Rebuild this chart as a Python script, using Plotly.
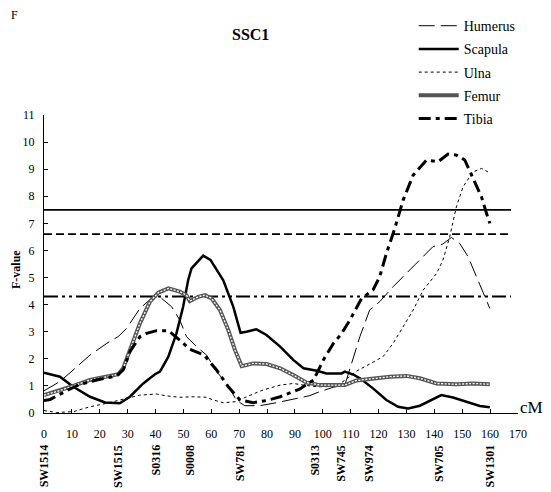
import plotly.graph_objects as go

# F-value profiles along SSC1 (cM, F)
humerus_x = [0, 5.7, 10.5, 16.5, 22.5, 26.6, 29.6, 34.4, 39.2, 42.2, 45.8, 48.7, 51.1, 54.7, 58.3,
             61.9, 65.5, 69.1, 72, 77.4, 83.4, 89.4, 95.3, 98.9, 103.7, 107.9, 110.3, 113.3, 116.8,
             120.4, 125.2, 130, 134.8, 139.5, 143.1, 146.1, 149.1, 152.1, 155.1, 158.1, 159.9]
humerus_y = [0.82, 1.16, 1.59, 2.14, 2.57, 2.82, 3.12, 3.86, 4.29, 4.23, 3.92, 3.43, 2.82, 2.45, 2.14,
             1.53, 1.09, 0.46, 0.27, 0.27, 0.38, 0.5, 0.64, 0.79, 0.95, 1.03, 1.83, 2.82, 3.8,
             4.11, 4.66, 5.15, 5.65, 6.14, 6.24, 6.48, 6.26, 5.77, 5.03, 4.29, 3.86]

scapula_x = [0, 5.7, 10.5, 16.5, 21.9, 27.2, 30.8, 35.6, 39.8, 41.6, 44.6, 47.5, 49.9, 51.7, 52.9,
             57.1, 59.7, 64.3, 67.9, 70.5, 72.6, 76.2, 79.8, 84.7, 89.4, 93.1, 97.9, 101.3, 106.7,
             107.9, 110.9, 113.3, 118, 122.8, 127, 130.6, 134.8, 139, 142.5, 146.7, 151.5, 156.3, 159.9]
scapula_y = [1.49, 1.34, 0.97, 0.6, 0.39, 0.36, 0.6, 1.09, 1.43, 1.53, 2.08, 2.94, 3.92, 4.9, 5.34,
             5.81, 5.65, 4.9, 3.92, 2.96, 3.0, 3.09, 2.88, 2.45, 1.96, 1.65, 1.56, 1.46, 1.46,
             1.53, 1.42, 1.28, 0.91, 0.48, 0.23, 0.17, 0.27, 0.48, 0.66, 0.57, 0.42, 0.26, 0.21]

ulna_x = [0, 4.5, 10.5, 16.5, 22.5, 28.4, 34.4, 40.4, 44, 48.7, 53.5, 58.3, 60.7, 64.3, 69.1, 72.6,
          78.6, 84.7, 89.4, 93.1, 97.9, 101.3, 106.1, 112.2, 116.9, 121.6, 125.2, 128.8, 132.4,
          136, 140.8, 143.1, 145.5, 147.9, 150.3, 153.9, 156.9, 159.2]
ulna_y = [0.09, 0.02, 0.05, 0.23, 0.36, 0.5, 0.66, 0.7, 0.63, 0.58, 0.6, 0.58, 0.48, 0.38, 0.42, 0.6,
          0.85, 1.03, 1.09, 1.03, 0.97, 0.97, 1.07, 1.55, 1.8, 2.08, 2.57, 3.19, 3.8,
          4.54, 5.15, 5.65, 6.5, 7.61, 8.35, 8.9, 9.03, 8.9]

femur_x = [0, 4.5, 10.5, 16.5, 22.5, 26.6, 28.4, 30.8, 34.4, 38, 41, 44.6, 48.7, 51.1, 52.3, 55.3,
           57.7, 60.1, 63.1, 66.1, 68.5, 70.9, 75, 79.8, 84.7, 89.4, 94.2, 99, 103.7, 107.9, 112.1,
           118, 124, 130, 134.8, 140.8, 147.9, 153.9, 159.9]
femur_y = [0.66, 0.79, 1.0, 1.22, 1.34, 1.43, 1.65, 2.32, 3.31, 4.11, 4.44, 4.6, 4.48, 4.35, 4.13, 4.29,
           4.35, 4.23, 3.8, 3.06, 2.32, 1.73, 1.83, 1.81, 1.65, 1.4, 1.12, 1.03, 1.03, 1.03, 1.2,
           1.28, 1.34, 1.37, 1.28, 1.09, 1.06, 1.09, 1.06]

tibia_x = [0, 2.2, 8.1, 12.9, 18.9, 26, 28.4, 30.8, 34.4, 36.8, 40.4, 44.6, 48.7, 52.3, 57.4,
           61.9, 66.1, 70.3, 75, 79.8, 84.7, 89.4, 91.8, 96.7, 100.2, 103.8, 106.5, 109.7, 113.9,
           118, 120.4, 122.8, 125.8, 128.8, 132.4, 137.2, 141.3, 144.9, 147.9, 150.9, 153.9, 156.9,
           158.7, 159.9]
tibia_y = [0.46, 0.5, 0.82, 1.06, 1.22, 1.37, 1.59, 2.26, 2.82, 2.94, 3.04, 3.04, 2.69, 2.35, 2.14,
           1.59, 0.97, 0.48, 0.38, 0.46, 0.6, 0.79, 0.89, 1.22, 1.96, 2.57, 2.9, 3.43, 4.23,
           4.54, 5.03, 5.89, 6.81, 7.86, 8.78, 9.34, 9.27, 9.56, 9.52, 9.34, 8.66, 7.98,
           7.37, 7.0]

# significance thresholds
threshold_y = [7.5, 6.6, 4.3]
threshold_x = [0, 167.5]

# microsatellite markers
marker_names = ['SW1514', 'SW1515', 'S0316', 'S0008', 'SW781', 'S0313', 'SW745', 'SW974', 'SW705', 'SW1301']
marker_pos = [0, 26.8, 40.2, 52.5, 70.3, 97.3, 106.7, 116.8, 141.6, 160]

FONT = 'Liberation Serif, Times New Roman, Times, serif'

fig = go.Figure()

# threshold lines
for ty, dash in zip(threshold_y, ['solid', '8px,4px', '14px,4px,3px,4px,3px,4px']):
    fig.add_trace(go.Scatter(x=threshold_x, y=[ty, ty], mode='lines', showlegend=False,
                             line=dict(color='black', width=1.8, dash=dash), hoverinfo='skip'))

fig.add_trace(go.Scatter(x=humerus_x, y=humerus_y, mode='lines', name='Humerus', legendgroup='h',
                         line=dict(color='black', width=1, dash='16px,6px')))
fig.add_trace(go.Scatter(x=scapula_x, y=scapula_y, mode='lines', name='Scapula', legendgroup='s',
                         line=dict(color='black', width=2.5)))
fig.add_trace(go.Scatter(x=ulna_x, y=ulna_y, mode='lines', name='Ulna', legendgroup='u',
                         line=dict(color='black', width=1, dash='3px,3px')))
fig.add_trace(go.Scatter(x=femur_x, y=femur_y, mode='lines', name='Femur', legendgroup='f',
                         line=dict(color='#555555', width=4)))
fig.add_trace(go.Scatter(x=femur_x, y=femur_y, mode='lines', legendgroup='f', showlegend=False,
                         line=dict(color='white', width=1.3, dash='2px,1.5px'), hoverinfo='skip'))
fig.add_trace(go.Scatter(x=tibia_x, y=tibia_y, mode='lines', name='Tibia', legendgroup='t',
                         line=dict(color='black', width=3, dash='12px,5px,4px,5px')))

# marker triangles under the axis
fig.add_trace(go.Scatter(x=marker_pos, y=[-0.17] * len(marker_pos), mode='markers', showlegend=False,
                         marker=dict(symbol='triangle-up', size=10, color='black'), cliponaxis=False,
                         text=marker_names, hoverinfo='text'))

for name, pos in zip(marker_names, marker_pos):
    fig.add_annotation(x=pos, y=-0.1, xref='x', yref='paper', text='<b>%s</b>' % name, textangle=-90,
                       showarrow=False, yanchor='top', font=dict(family=FONT, size=12, color='black'))

fig.add_annotation(x=1.0, y=0, xref='paper', yref='paper', text='cM', showarrow=False,
                   xanchor='left', yanchor='bottom', yshift=-6, font=dict(family=FONT, size=17, color='black'))
fig.add_annotation(x=0.435, y=1.27, xref='paper', yref='paper', text='<b>SSC1</b>', showarrow=False,
                   xanchor='center', yanchor='middle', font=dict(family=FONT, size=16, color='black'))
fig.add_annotation(x=-0.062, y=1.334, xref='paper', yref='paper', text='F', showarrow=False,
                   xanchor='center', yanchor='middle', font=dict(family=FONT, size=12, color='black'))
fig.add_annotation(x=-0.059, y=0.48, xref='paper', yref='paper', text='<b>F-value</b>', textangle=-90,
                   showarrow=False, xanchor='center', yanchor='middle',
                   font=dict(family=FONT, size=12, color='black'))

# the page body adds an 8px margin, so the figure is drawn 8px smaller
fig.update_layout(
    width=543, height=484,
    margin=dict(l=36, r=33, t=107, b=79, autoexpand=False),
    paper_bgcolor='white', plot_bgcolor='white',
    font=dict(family=FONT, size=12, color='black'),
    legend=dict(x=0.78, y=1.352, xanchor='left', yanchor='top', font=dict(family=FONT, size=14),
                tracegroupgap=2, itemwidth=40, bgcolor='rgba(0,0,0,0)'),
    xaxis=dict(range=[0, 170], dtick=10, tick0=0, showgrid=False, zeroline=False, showline=True,
               linecolor='black', linewidth=1, ticks='inside', ticklen=4, tickcolor='black',
               ticklabelstandoff=10, automargin=False),
    yaxis=dict(range=[0, 11], dtick=1, tick0=0, showgrid=False, zeroline=False, showline=True,
               linecolor='black', linewidth=1, ticks='inside', ticklen=4, tickcolor='black',
               ticklabelstandoff=6, automargin=False),
)

fig.write_html("out.html")
